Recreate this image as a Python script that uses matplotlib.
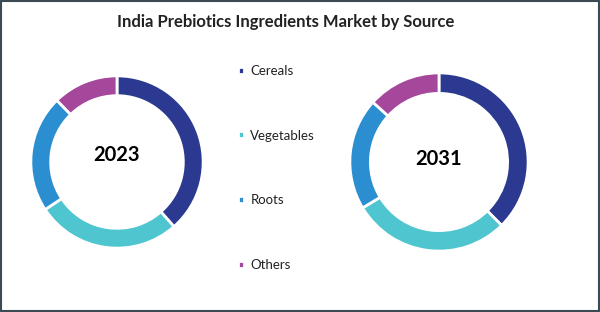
import matplotlib
matplotlib.use("Agg")
import matplotlib.pyplot as plt
from matplotlib.patches import Rectangle

categories = ["Cereals", "Vegetables", "Roots", "Others"]
values_2023 = [38.5, 27.2, 22.0, 12.3]
values_2031 = [37.6, 28.8, 20.3, 13.3]
years = ["2023", "2031"]
colors = ["#2B3990", "#4EC5CF", "#2A8ED0", "#A5479B"]

plt.rcParams['font.family'] = ['Lato', 'DejaVu Sans']

W, H = 600, 312
fig = plt.figure(figsize=(W / 100, H / 100), dpi=100)

def add_donut(cx, cy, r, vals, label, label_dy):
    ax = fig.add_axes([(cx - r) / W, (H - cy - r) / H, 2 * r / W, 2 * r / H])
    wedges, _ = ax.pie(vals, colors=colors, startangle=90, counterclock=False,
                       radius=1.0,
                       wedgeprops=dict(width=0.23, edgecolor="white", linewidth=2))
    ax.set_xlim(-1.01, 1.01)
    ax.set_ylim(-1.01, 1.01)
    ax.set_aspect("equal")
    ax.axis("off")
    ax.text(0, label_dy / r, label, ha="center", va="center", fontsize=14.5,
            fontweight="bold", color="black")
    return wedges

w1 = add_donut(117, 162, 87, values_2023, years[0], 7)
w2 = add_donut(439, 162, 90, values_2031, years[1], 3)

fig.legend(w1, categories, loc="upper left", bbox_to_anchor=(226 / W, 1 - 53 / H),
           frameon=False, fontsize=9.5, labelspacing=4.0, handlelength=0.45,
           handleheight=0.45, handletextpad=0.5, labelcolor="#222222")

fig.text(286 / W, 1 - 22 / H, "India Prebiotics Ingredients Market by Source",
         ha="center", va="center", fontsize=12, fontweight="bold", color="#222222")

fig.patches.append(Rectangle((0.002, 0.003), 0.996, 0.994, transform=fig.transFigure,
                             fill=False, edgecolor="#3C4A55", linewidth=1.5))

fig.savefig("out.png", dpi=100)
